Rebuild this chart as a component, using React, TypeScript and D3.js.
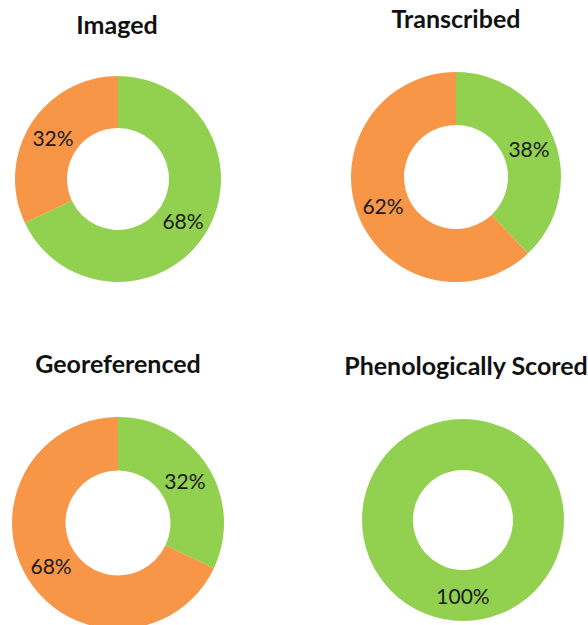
import React from "react";
import * as d3 from "d3";

// chart data
const titles = ["Imaged", "Transcribed", "Georeferenced", "Phenologically Scored"];
const categories = ["Done", "Not done"];
const doneValues = [68, 38, 32, 100];
const notDoneValues = [32, 62, 68, 0];

const colors = ["#92D050", "#F79646"];

// layout for each donut
const layout = [
  { cx: 118, cy: 179, r: 103, ty: 34, tx: 117 },
  { cx: 456, cy: 177, r: 105, ty: 28, tx: 456 },
  { cx: 118, cy: 523, r: 106, ty: 373, tx: 118 },
  { cx: 463, cy: 520, r: 101, ty: 375, tx: 466 },
];

const App = () => {
  const svgRef = React.useRef(null);
  const width = 588;
  const height = 625;

  React.useEffect(() => {
    drawChart();
  }, []);

  const drawChart = () => {
    const svg = d3.select(svgRef.current);
    svg.selectAll("*").remove();

    const color = d3.scaleOrdinal().domain(categories).range(colors);
    const pie = d3
      .pie()
      .sort(null)
      .value((d) => d.value);

    titles.forEach((title, i) => {
      const l = layout[i];
      const data = [
        { key: categories[0], value: doneValues[i] },
        { key: categories[1], value: notDoneValues[i] },
      ];
      const arc = d3
        .arc()
        .innerRadius(l.r * 0.495)
        .outerRadius(l.r);

      const g = svg.append("g").attr("transform", `translate(${l.cx},${l.cy})`);
      const arcs = pie(data).filter((d) => d.data.value > 0);

      g.selectAll("path")
        .data(arcs)
        .join("path")
        .attr("fill", (d) => color(d.data.key))
        .attr("d", arc);

      g.selectAll("text")
        .data(arcs)
        .join("text")
        .attr("transform", (d) => `translate(${arc.centroid(d)})`)
        .attr("text-anchor", "middle")
        .attr("dominant-baseline", "central")
        .style("font-family", "Lato, sans-serif")
        .style("font-size", "21px")
        .style("fill", "#1a1a1a")
        .text((d) => `${d.data.value}%`);

      svg
        .append("text")
        .attr("x", l.tx)
        .attr("y", l.ty)
        .attr("text-anchor", "middle")
        .style("font-family", "Lato, sans-serif")
        .style("font-weight", "bold")
        .style("font-size", "25px")
        .style("fill", "#111")
        .text(title);
    });
  };

  return (
    <svg
      ref={svgRef}
      width={width}
      height={height}
      style={{ position: "absolute", left: 0, top: 0, background: "#fff" }}
    />
  );
};

export default App;
